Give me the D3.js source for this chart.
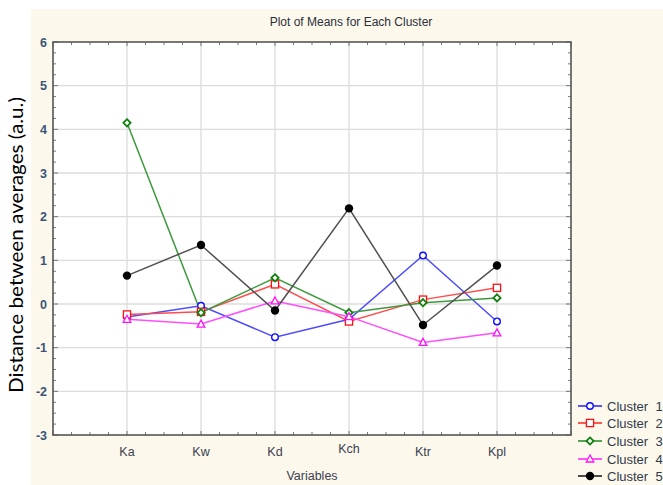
<!DOCTYPE html>
<html><head><meta charset="utf-8">
<script src="https://cdn.jsdelivr.net/npm/d3@7"></script>
<style>body{margin:0;background:#fff;} svg{display:block;}</style>
</head><body>
<svg id="chart" width="663" height="485"></svg>
<script>
const categories = ["Ka","Kw","Kd","Kch","Ktr","Kpl"];
const seriesNames = ["Cluster  1","Cluster  2","Cluster  3","Cluster  4","Cluster  5"];
const cluster1 = [-0.30,-0.04,-0.76,-0.35,1.11,-0.40];
const cluster2 = [-0.24,-0.18,0.45,-0.40,0.10,0.37];
const cluster3 = [4.15,-0.20,0.60,-0.20,0.03,0.14];
const cluster4 = [-0.35,-0.46,0.07,-0.29,-0.88,-0.66];
const cluster5 = [0.65,1.35,-0.15,2.19,-0.48,0.88];
const yTicks = [-3,-2,-1,0,1,2,3,4,5,6];

const seriesValues = [cluster1,cluster2,cluster3,cluster4,cluster5];
const lineColors = ["#4d4dff","#ff4d4d","#3c9a3c","#ff4dff","#505050"];
const markColors = ["#1010ff","#ff1010","#108010","#ff10ff","#000000"];
const markTypes = ["circle","square","diamond","triangle","dot"];

const svg = d3.select("#chart");
svg.append("rect").attr("x",31).attr("y",9).attr("width",632).attr("height",476).attr("fill","#fdf8ec");

const L=53, R=571, T=42, B=435;
const x = d3.scaleLinear().domain([0,7]).range([L,R]);
const y = d3.scaleLinear().domain([-3,6]).range([B,T]);

svg.append("rect").attr("x",L).attr("y",T).attr("width",R-L).attr("height",B-T).attr("fill","#fff");

const g = svg.append("g");
g.selectAll(".gy").data(yTicks.slice(1,-1)).enter().append("line")
 .attr("x1",L).attr("x2",R).attr("y1",d=>y(d)).attr("y2",d=>y(d))
 .attr("stroke","#dcdcdc").attr("stroke-width",1.3);
g.selectAll(".gx").data(d3.range(1,7)).enter().append("line")
 .attr("y1",T).attr("y2",B).attr("x1",d=>x(d)).attr("x2",d=>x(d))
 .attr("stroke","#dcdcdc").attr("stroke-width",1.3);

const minorY = d3.range(-3,6.001,0.25);
const minorX = d3.range(0,7.001,0.25);
const tk = svg.append("g").attr("stroke","#777").attr("stroke-width",1);
tk.selectAll(".ml").data(minorY).enter().append("line")
 .attr("x1",L).attr("x2",d=>L+(Number.isInteger(d)?5:3)).attr("y1",d=>y(d)).attr("y2",d=>y(d));
tk.selectAll(".mr").data(minorY).enter().append("line")
 .attr("x1",R).attr("x2",d=>R-(Number.isInteger(d)?5:3)).attr("y1",d=>y(d)).attr("y2",d=>y(d));
tk.selectAll(".mt").data(minorX).enter().append("line")
 .attr("y1",T).attr("y2",d=>T+(Number.isInteger(d)?4:3)).attr("x1",d=>x(d)).attr("x2",d=>x(d));
tk.selectAll(".mb").data(minorX).enter().append("line")
 .attr("y1",B).attr("y2",d=>B-(Number.isInteger(d)?4:3)).attr("x1",d=>x(d)).attr("x2",d=>x(d));

svg.append("rect").attr("x",L).attr("y",T).attr("width",R-L).attr("height",B-T)
 .attr("fill","none").attr("stroke","#555").attr("stroke-width",1.6);

svg.selectAll(".yl").data(yTicks).enter().append("text")
 .attr("x",47).attr("y",d=>y(d)+4.5).attr("text-anchor","end")
 .attr("font-family","Liberation Sans, Arial, sans-serif").attr("font-size",12.5)
 .attr("font-weight","bold")
 .attr("fill","#3a5478").text(d=>d);

svg.selectAll(".xl").data(categories).enter().append("text")
 .attr("x",(d,i)=>x(i+1)).attr("y",(d,i)=> d==="Kch"?453:456).attr("text-anchor","middle")
 .attr("font-family","Liberation Sans, Arial, sans-serif").attr("font-size",12.5)
 .attr("fill","#3a4150").text(d=>d);

svg.append("text").attr("x",x(3.5)).attr("y",480).attr("text-anchor","middle")
 .attr("font-family","Liberation Sans, Arial, sans-serif").attr("font-size",12.5)
 .attr("fill","#3a4150").text("Variables");

svg.append("text").attr("x",351).attr("y",26).attr("text-anchor","middle")
 .attr("font-family","Liberation Sans, Arial, sans-serif").attr("font-size",12)
 .attr("fill","#2a2f3a").text("Plot of Means for Each Cluster");

svg.append("text").attr("transform","translate(23,245) rotate(-90)").attr("text-anchor","middle")
 .attr("font-family","Lato, Carlito, sans-serif").attr("font-size",20)
 .attr("textLength",296).attr("lengthAdjust","spacingAndGlyphs")
 .attr("fill","#000").text("Distance between averages (a.u.)");

function drawMarker(sel, type, color){
  if(type==="circle"){
    sel.append("circle").attr("r",3.3).attr("fill","#fff").attr("stroke",color).attr("stroke-width",1.4);
  } else if(type==="square"){
    sel.append("rect").attr("x",-3.6).attr("y",-3.6).attr("width",7.2).attr("height",7.2)
      .attr("fill","#fff").attr("stroke",color).attr("stroke-width",1.3);
  } else if(type==="diamond"){
    sel.append("path").attr("d","M0,-3.6L3.6,0L0,3.6L-3.6,0Z").attr("fill","#fff").attr("stroke",color).attr("stroke-width",1.8);
  } else if(type==="triangle"){
    sel.append("path").attr("d","M0,-4L3.8,3L-3.8,3Z").attr("fill","#fff").attr("stroke",color).attr("stroke-width",1.3);
  } else {
    sel.append("circle").attr("r",4.2).attr("fill",color);
  }
}

const line = d3.line().x((d,i)=>x(i+1)).y(d=>y(d));
seriesValues.forEach((vals,si)=>{
  svg.append("path").datum(vals).attr("d",line).attr("fill","none")
    .attr("stroke",lineColors[si]).attr("stroke-width",1.5);
});
seriesValues.forEach((vals,si)=>{
  vals.forEach((v,i)=>{
    const m = svg.append("g").attr("transform",`translate(${x(i+1)},${y(v)})`);
    drawMarker(m, markTypes[si], markColors[si]);
  });
});

const legendY = [406,423,441,459,476];
seriesNames.forEach((name,si)=>{
  const ly = legendY[si];
  svg.append("line").attr("x1",578).attr("x2",602).attr("y1",ly).attr("y2",ly)
    .attr("stroke",markColors[si]).attr("stroke-width",1.4);
  const m = svg.append("g").attr("transform",`translate(590,${ly})`);
  drawMarker(m, markTypes[si], markColors[si]);
  svg.append("text").attr("x",607).attr("y",ly+4.5).attr("xml:space","preserve")
    .style("white-space","pre")
    .attr("font-family","Liberation Sans, Arial, sans-serif").attr("font-size",13)
    .attr("fill","#2f3a4a").text(name);
});
</script>
</body></html>
